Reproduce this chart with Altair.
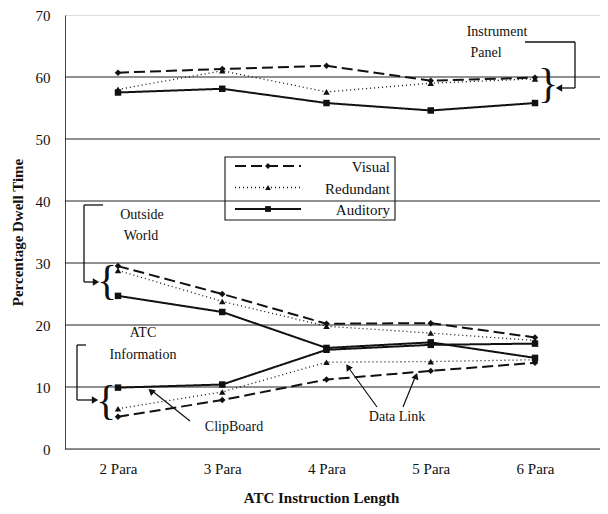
import altair as alt
import pandas as pd

categories = ["2 Para", "3 Para", "4 Para", "5 Para", "6 Para"]
conditions = ["Visual", "Redundant", "Auditory"]
marker_shapes = ["diamond", "triangle-up", "square"]
dash_styles = [[11, 5], [1, 3], [1, 0]]
line_widths = [2.0, 1.3, 2.0]

ip_visual = [60.7, 61.3, 61.8, 59.4, 59.9]
ip_redundant = [58.0, 61.0, 57.6, 59.0, 59.7]
ip_auditory = [57.5, 58.1, 55.8, 54.6, 55.8]

ow_visual = [29.5, 25.0, 20.2, 20.3, 18.0]
ow_redundant = [28.8, 23.8, 19.8, 18.7, 17.5]
ow_auditory = [24.7, 22.1, 16.3, 17.2, 14.7]

atc_visual = [5.2, 7.9, 11.2, 12.6, 13.9]
atc_redundant = [6.5, 9.2, 14.0, 14.1, 14.4]
atc_auditory = [9.9, 10.4, 16.0, 16.8, 17.0]

grid_values = [0, 10, 20, 30, 40, 50, 60]
y_ticks = [0, 10, 20, 30, 40, 50, 60, 70]

series = {
    ("Instrument Panel", "Visual"): ip_visual,
    ("Instrument Panel", "Redundant"): ip_redundant,
    ("Instrument Panel", "Auditory"): ip_auditory,
    ("Outside World", "Visual"): ow_visual,
    ("Outside World", "Redundant"): ow_redundant,
    ("Outside World", "Auditory"): ow_auditory,
    ("ATC Information", "Visual"): atc_visual,
    ("ATC Information", "Redundant"): atc_redundant,
    ("ATC Information", "Auditory"): atc_auditory,
}
rows = []
for (g, c), vals in series.items():
    for cat, v in zip(categories, vals):
        rows.append({"group": g, "condition": c, "length": cat, "value": v})
df = pd.DataFrame(rows)

FONT = "Liberation Serif"
INK = "#111111"
W, H = 535, 434

x_enc = alt.X(
    "length:O",
    sort=categories,
    scale=alt.Scale(type="point", domain=categories, range=[53, 470], padding=0),
    axis=alt.Axis(title="ATC Instruction Length", labelAngle=0, domain=False, ticks=False,
                  labelPadding=12, titlePadding=14, labelFont=FONT, labelFontSize=15,
                  titleFont=FONT, titleFontSize=15, titleFontWeight="bold",
                  labelColor=INK, titleColor=INK, titleX=256),
)
y_enc = alt.Y(
    "value:Q",
    scale=alt.Scale(domain=[0, 70], nice=False, zero=True),
    axis=alt.Axis(title="Percentage Dwell Time", values=y_ticks, grid=False, ticks=False,
                  domain=True, domainColor="#444444", domainWidth=1,
                  labelPadding=15, titlePadding=10, labelFont=FONT, labelFontSize=15,
                  titleFont=FONT, titleFontSize=15, titleFontWeight="bold",
                  labelColor=INK, titleColor=INK),
)

grid = alt.Chart(pd.DataFrame({"value": grid_values})).mark_rule(
    color="#222222", strokeWidth=1
).encode(y=y_enc)

line_layers = [
    alt.Chart(df).transform_filter(alt.datum.condition == cond).mark_line(
        color=INK, strokeDash=dsh, strokeWidth=lw
    ).encode(x=x_enc, y=y_enc, detail="group:N")
    for cond, dsh, lw in zip(conditions, dash_styles, line_widths)
]

point_layers = [
    alt.Chart(df).transform_filter(alt.datum.condition == cond).mark_point(
        filled=True, color=INK, opacity=1, shape=shp, size=42
    ).encode(x=x_enc, y=y_enc)
    for cond, shp in zip(conditions, marker_shapes)
]

one = pd.DataFrame({"a": [0]})


def label(text, x, y, size=14, align="center"):
    return alt.Chart(one).mark_text(
        text=text, font=FONT, fontSize=size, color=INK, align=align, baseline="middle"
    ).encode(x=alt.value(x), y=alt.value(y))


def seg(x1, y1, x2, y2, w=1.3, dash=None):
    kw = {"color": INK, "strokeWidth": w}
    if dash is not None:
        kw["strokeDash"] = dash
    return alt.Chart(one).mark_rule(**kw).encode(
        x=alt.value(x1), y=alt.value(y1), x2=alt.value(x2), y2=alt.value(y2)
    )


def head(x, y, angle, size=55):
    return alt.Chart(one).mark_point(
        shape="triangle-up", filled=True, color=INK, opacity=1, size=size, angle=angle
    ).encode(x=alt.value(x), y=alt.value(y))


def marker(x, y, shape, size=34):
    return alt.Chart(one).mark_point(
        shape=shape, filled=True, color=INK, opacity=1, size=size
    ).encode(x=alt.value(x), y=alt.value(y))


def brace(ch, x, y, size=40):
    return alt.Chart(one).mark_text(
        text=ch, font=FONT, fontSize=size, color=INK, align="center", baseline="middle"
    ).encode(x=alt.value(x), y=alt.value(y))


# legend (drawn as a key box inside the plot)
legend_box = alt.Chart(one).mark_rect(fill=None, stroke=INK, strokeWidth=1.1).encode(
    x=alt.value(160), x2=alt.value(330), y=alt.value(142), y2=alt.value(205)
)
legend_layers = [legend_box]
for i, (cond, shp, dsh, lw) in enumerate(zip(conditions, marker_shapes, dash_styles, line_widths)):
    ry = 151 + i * 21.5
    legend_layers.append(seg(170, ry, 236, ry, w=lw, dash=dsh))
    legend_layers.append(marker(203, ry, shp))
    legend_layers.append(label(cond, 325, ry + 1, size=15, align="right"))

annotations = [
    # Instrument Panel
    label("Instrument", 432, 17), label("Panel", 421, 38),
    seg(460, 27, 510, 27), seg(510, 27, 510, 73), seg(510, 73, 495, 73),
    head(494, 73, 270), brace("}", 483, 69, 42),
    # Outside World
    label("Outside", 77, 200), label("World", 76, 221),
    seg(19, 190, 38, 190), seg(19, 190, 19, 267), seg(19, 267, 30, 267),
    head(31, 267, 90), brace("{", 42, 266, 42),
    # ATC Information
    label("ATC", 78, 318), label("Information", 78, 340),
    seg(12, 330, 21, 330), seg(12, 330, 12, 385), seg(12, 385, 28, 385),
    head(30, 385, 90), brace("{", 41, 386, 42),
    # ClipBoard
    label("ClipBoard", 169, 412), seg(125, 406, 86, 375, 1.2), head(86, 376, 310),
    # Data Link
    label("Data Link", 332, 402),
    seg(312, 392, 283, 352, 1.2), head(283, 352, 326),
    seg(338, 392, 351, 360, 1.2), head(351, 361, 20),
]

chart = alt.layer(grid, *line_layers, *point_layers, *legend_layers, *annotations).properties(
    width=W, height=H,
    autosize=alt.AutoSizeParams(type="none"),
    padding={"left": 57, "top": 7, "right": 0, "bottom": 58},
).configure_view(stroke=None).configure(background="white")

chart.save("out.html", embed_options={"renderer": "svg", "actions": False})
